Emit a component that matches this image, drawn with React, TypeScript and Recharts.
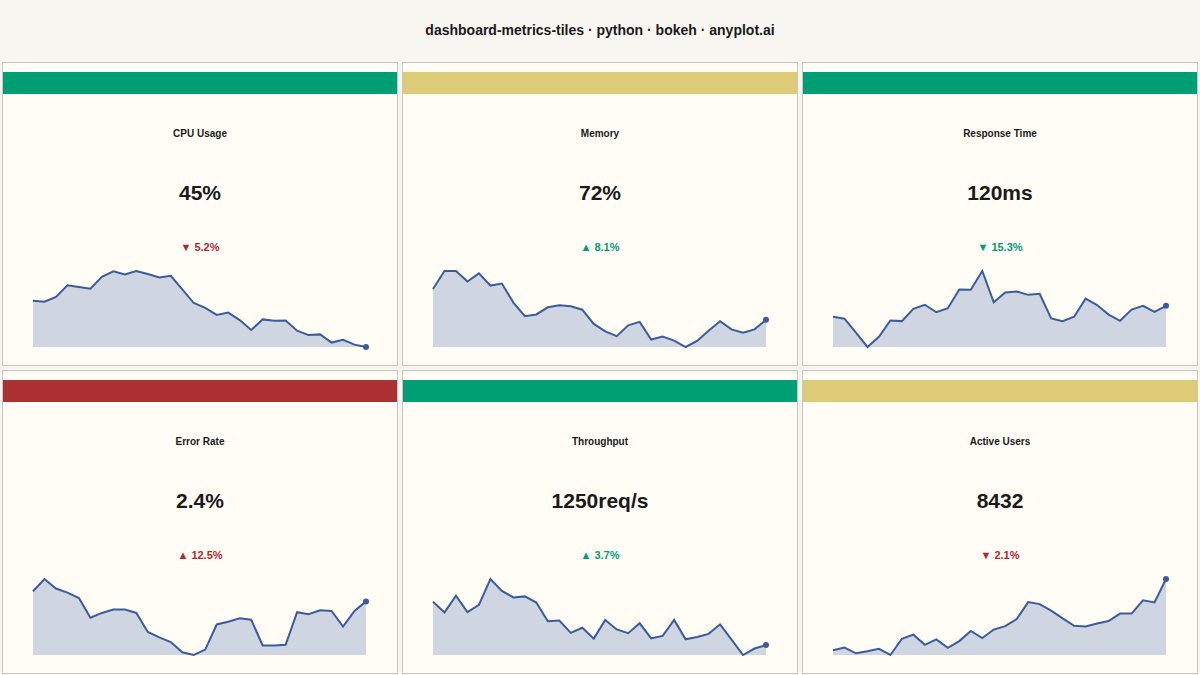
import { AreaChart, Area, XAxis, YAxis } from "recharts"

/* ── Tile data ── */
const METRIC_NAMES = ["CPU Usage", "Memory", "Response Time", "Error Rate", "Throughput", "Active Users"]
const METRIC_VALUES = ["45%", "72%", "120ms", "2.4%", "1250req/s", "8432"]
const CHANGES = [-5.2, 8.1, -15.3, 12.5, 3.7, -2.1]
const CHANGE_IS_GOOD = [false, true, true, false, true, false]
const STATUSES = ["good", "warning", "good", "critical", "good", "warning"]

const CPU_SERIES = [
  58.6, 58.3, 59.7, 63.1, 62.6, 62.1, 65.6, 67.2, 66.3, 67.3, 66.4, 65.4, 65.9, 61.9, 57.9,
  56.5, 54.4, 55.1, 52.9, 50.0, 53.1, 52.7, 52.8, 49.8, 48.5, 48.7, 46.3, 47.1, 45.7, 45.0,
]
const MEMORY_SERIES = [
  81.1, 86.4, 86.4, 83.3, 85.7, 82.1, 82.7, 77.1, 73.1, 73.6, 75.7, 76.3, 76.0, 75.0, 70.8,
  68.6, 67.2, 70.4, 71.4, 66.2, 67.1, 65.9, 64.0, 65.8, 68.8, 71.6, 69.2, 68.2, 69.2, 72.0,
]
const RESPONSE_SERIES = [
  113.6, 112.4, 104.2, 95.8, 101.8, 111.4, 111.0, 118.2, 120.6, 116.2, 118.6, 129.6, 129.4, 140.4, 122.0,
  127.8, 128.4, 126.4, 127.0, 112.6, 111.0, 113.6, 124.2, 120.4, 114.8, 111.2, 117.8, 120.0, 116.4, 120.0,
]
const ERROR_SERIES = [
  2.55, 2.73, 2.59, 2.53, 2.45, 2.16, 2.23, 2.28, 2.28, 2.23, 1.95, 1.87, 1.8, 1.65, 1.61,
  1.69, 2.06, 2.1, 2.15, 2.13, 1.75, 1.75, 1.76, 2.24, 2.21, 2.27, 2.26, 2.03, 2.26, 2.4,
]
const THROUGHPUT_SERIES = [
  1377, 1346, 1395, 1347, 1368, 1444, 1409, 1390, 1393, 1375, 1320, 1322, 1286, 1301, 1269,
  1324, 1296, 1285, 1314, 1270, 1277, 1324, 1267, 1274, 1283, 1311, 1266, 1221, 1240, 1250,
]
const USERS_SERIES = [
  7382, 7422, 7337, 7367, 7402, 7312, 7552, 7612, 7462, 7542, 7417, 7517, 7667, 7562, 7687,
  7737, 7842, 8092, 8062, 7967, 7852, 7742, 7732, 7777, 7812, 7922, 7922, 8117, 8087, 8432,
]
const SERIES = [CPU_SERIES, MEMORY_SERIES, RESPONSE_SERIES, ERROR_SERIES, THROUGHPUT_SERIES, USERS_SERIES]

/* ── Styling ── */
const FONT = '"Liberation Sans", Arial, Helvetica, sans-serif'
const STATUS_COLORS: Record<string, string> = {
  good: "#009E73",
  warning: "#DECB77",
  critical: "#AF3033",
}
const GOOD_TEXT = "#009E73"
const BAD_TEXT = "#B22630"
const LINE = "#3A5C9E"
const FILL = "#D0D6E1"

function CenterText({ top, size, color, children }: any) {
  return (
    <div
      style={{
        position: "absolute",
        left: 0,
        right: 0,
        top: top - size,
        height: size * 2,
        lineHeight: `${size * 2}px`,
        textAlign: "center",
        fontSize: size,
        fontWeight: 700,
        color,
        whiteSpace: "nowrap",
      }}
    >
      {children}
    </div>
  )
}

function Tile({ index }: { index: number }) {
  const col = index % 3
  const row = Math.floor(index / 3)
  const series = SERIES[index]
  const data = series.map((v, i) => ({ t: i, v }))
  const last = series.length - 1
  const change = CHANGES[index]
  const arrow = change >= 0 ? "▲" : "▼"
  const changeColor = CHANGE_IS_GOOD[index] ? GOOD_TEXT : BAD_TEXT

  return (
    <div
      style={{
        position: "absolute",
        left: 2 + col * 400,
        top: 62 + row * 308,
        width: 396,
        height: 304,
        boxSizing: "border-box",
        border: "1px solid #C9C8C0",
        background: "#FFFDF6",
      }}
    >
      <div style={{ position: "absolute", left: 0, right: 0, top: 9, height: 22, background: STATUS_COLORS[STATUSES[index]] }} />
      <CenterText top={71} size={10} color="#1A1A1A">{METRIC_NAMES[index]}</CenterText>
      <CenterText top={130} size={21} color="#1A1A1A">{METRIC_VALUES[index]}</CenterText>
      <CenterText top={184} size={11} color={changeColor}>
        {arrow} {Math.abs(change).toFixed(1)}%
      </CenterText>
      <div style={{ position: "absolute", left: 0, top: 198 }}>
        <AreaChart width={394} height={96} data={data} margin={{ top: 10, right: 31, bottom: 10, left: 30 }}>
          <XAxis dataKey="t" hide />
          <YAxis hide domain={["dataMin", "dataMax"]} />
          <Area
            type="linear"
            dataKey="v"
            stroke={LINE}
            strokeWidth={2}
            fill={FILL}
            fillOpacity={1}
            baseValue="dataMin"
            isAnimationActive={false}
            dot={(p: any) =>
              p.index === last ? (
                <circle key={p.index} cx={p.cx} cy={p.cy} r={3} fill={LINE} stroke="none" />
              ) : (
                <g key={p.index} />
              )
            }
            activeDot={false}
          />
        </AreaChart>
      </div>
    </div>
  )
}

export default function App() {
  return (
    <div
      style={{
        position: "absolute",
        left: 0,
        top: 0,
        width: 1200,
        height: 675,
        background: "#F8F6F1",
        fontFamily: FONT,
        overflow: "hidden",
      }}
    >
      <div
        style={{
          position: "absolute",
          left: 0,
          right: 0,
          top: 20,
          height: 20,
          lineHeight: "20px",
          textAlign: "center",
          fontSize: 14,
          fontWeight: 700,
          color: "#1A1A1A",
        }}
      >
        dashboard-metrics-tiles · python · bokeh · anyplot.ai
      </div>
      {METRIC_NAMES.map((_, i) => (
        <Tile key={i} index={i} />
      ))}
    </div>
  )
}
